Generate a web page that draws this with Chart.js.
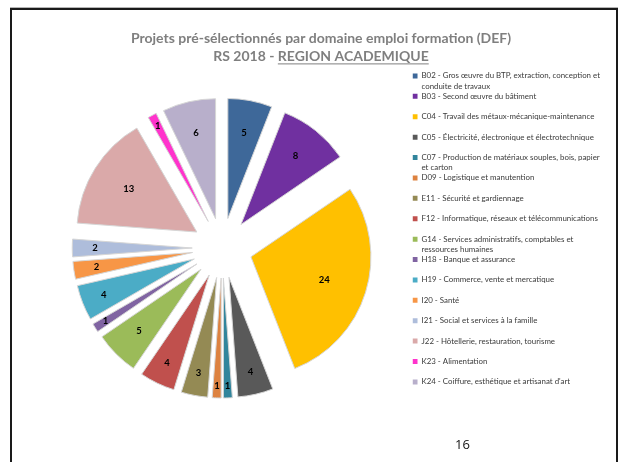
<!DOCTYPE html>
<html>
<head>
<meta charset="utf-8">
<script src="https://cdn.jsdelivr.net/npm/chart.js@4"></script>
<style>
  html, body { margin: 0; padding: 0; background: #fff; }
  #wrap { position: relative; width: 620px; height: 462px; overflow: hidden; }
  #frame {
    position: absolute; left: 10px; top: 8px; width: 608px; height: 480px;
    box-sizing: border-box; border: 2px solid #1a1a1a; border-bottom: none;
    box-shadow: 0 -1px 0 #b5b5b5;
  }
  #chartBox { position: absolute; left: 0; top: 0; width: 620px; height: 462px; }
  #pageNum {
    position: absolute; left: 455px; top: 435px;
    font-family: "Open Sans", sans-serif; font-size: 13px; color: #111;
  }
</style>
</head>
<body>
<div id="wrap">
  <div id="frame"></div>
  <div id="chartBox"><canvas id="defChart"></canvas></div>
  <div id="pageNum">16</div>
</div>
<script>
// categories (wrapped the way the legend shows them)
const categories = [
    ['B02 - Gros œuvre du BTP, extraction, conception et', 'conduite de travaux'],
    'B03 - Second œuvre du bâtiment',
    'C04 - Travail des métaux-mécanique-maintenance',
    'C05 - Électricité, électronique et électrotechnique',
    ['C07 - Production de matériaux souples, bois, papier', 'et carton'],
    'D09 - Logistique et manutention',
    'E11 - Sécurité et gardiennage',
    'F12 - Informatique, réseaux et télécommunications',
    ['G14 - Services administratifs, comptables et', 'ressources humaines'],
    'H18 - Banque et assurance',
    'H19 - Commerce, vente et mercatique',
    'I20 - Santé',
    'I21 - Social et services à la famille',
    'J22 - Hôtellerie, restauration, tourisme',
    'K23 - Alimentation',
    'K24 - Coiffure, esthétique et artisanat d\'art'
];
const projets = [5, 8, 24, 4, 1, 1, 3, 4, 5, 1, 4, 2, 2, 13, 1, 6];
const sliceColors = ['#3e6899', '#7030a0', '#ffc000', '#595959', '#31859c', '#dd8240',
    '#948a54', '#c0504d', '#9bbb59', '#8064a2', '#4bacc6', '#f79646',
    '#aebddb', '#daa9a9', '#ff33cc', '#b8afcb'];
const titleLines = ['Projets pré-sélectionnés par domaine emploi formation (DEF)', 'RS 2018 - REGION ACADEMIQUE'];
const underlined = 'REGION ACADEMIQUE';

const EXPLODE = 30;

// pull every slice out from the centre
const explodePlugin = {
    id: 'explode',
    beforeDatasetsDraw(chart) {
        const area = chart.chartArea;
        const cx = (area.left + area.right) / 2;
        const cy = (area.top + area.bottom) / 2;
        chart.getDatasetMeta(0).data.forEach(arc => {
            const mid = (arc.startAngle + arc.endAngle) / 2;
            arc.x = cx + Math.cos(mid) * EXPLODE;
            arc.y = cy + Math.sin(mid) * EXPLODE;
        });
    }
};

// value labels inside the slices
const valueLabels = {
    id: 'valueLabels',
    afterDatasetsDraw(chart) {
        const ctx = chart.ctx;
        const values = chart.data.datasets[0].data;
        ctx.save();
        ctx.font = 'bold 9.5px Lato';
        ctx.fillStyle = '#000';
        ctx.textAlign = 'center';
        ctx.textBaseline = 'middle';
        chart.getDatasetMeta(0).data.forEach((arc, i) => {
            const v = values[i];
            let f = 0.9;
            if (v >= 20) f = 0.64;
            else if (v >= 10) f = 0.67;
            else if (v >= 5) f = 0.73;
            else if (v >= 2) f = 0.81;
            const mid = (arc.startAngle + arc.endAngle) / 2;
            const r = arc.outerRadius * f;
            ctx.fillText(String(v), arc.x + Math.cos(mid) * r, arc.y + Math.sin(mid) * r);
        });
        ctx.restore();
    }
};

// underline part of the second title line
const titleUnderline = {
    id: 'titleUnderline',
    afterDraw(chart) {
        const t = chart.titleBlock;
        if (!t) return;
        const ctx = chart.ctx;
        const font = Chart.helpers.toFont(chart.options.plugins.title.font);
        const pad = Chart.helpers.toPadding(chart.options.plugins.title.padding);
        ctx.save();
        ctx.font = font.string;
        const full = ctx.measureText(titleLines[1]).width;
        const before = ctx.measureText(titleLines[1].replace(underlined, '')).width;
        const part = ctx.measureText(underlined).width;
        const cx = (t.left + t.right) / 2;
        const x0 = cx - full / 2 + before;
        const y = t.top + pad.top + font.lineHeight * 1.5 + font.size * 0.55;
        ctx.strokeStyle = '#7f7f7f';
        ctx.lineWidth = 1;
        ctx.beginPath();
        ctx.moveTo(x0, y);
        ctx.lineTo(x0 + part, y);
        ctx.stroke();
        ctx.restore();
    }
};

const ctx = document.getElementById('defChart').getContext('2d');
const defChart = new Chart(ctx, {
    type: 'pie',
    data: {
        labels: categories,
        datasets: [{
            data: projets,
            backgroundColor: sliceColors,
            borderColor: '#d6d6d6',
            borderWidth: 1
        }]
    },
    options: {
        responsive: true,
        maintainAspectRatio: false,
        animation: false,
        events: [],
        radius: 120,
        layout: { padding: { left: 32, right: 10, top: 0, bottom: 38 } },
        plugins: {
            title: {
                display: true,
                text: titleLines,
                color: '#7f7f7f',
                font: { family: 'Lato', size: 14, weight: 'bold', lineHeight: 1.3 },
                padding: { top: 28.9, bottom: 6.7 }
            },
            legend: {
                display: true,
                position: 'right',
                align: 'start',
                fullSize: false,
                maxWidth: 202,
                labels: {
                    boxWidth: 5,
                    boxHeight: 5,
                    padding: 0,
                    color: '#3a3a3a',
                    font: { family: 'Lato', size: 7.9, lineHeight: 1.291 },
                    generateLabels(chart) {
                        return chart.data.labels.map((label, i) => ({
                            text: Array.isArray(label) ? label : [label, ''],
                            fillStyle: sliceColors[i],
                            strokeStyle: sliceColors[i],
                            lineWidth: 0,
                            fontColor: '#3a3a3a',
                            hidden: false,
                            index: i
                        }));
                    }
                }
            },
            tooltip: { enabled: false }
        }
    },
    plugins: [explodePlugin, valueLabels, titleUnderline]
});
</script>
</body>
</html>
